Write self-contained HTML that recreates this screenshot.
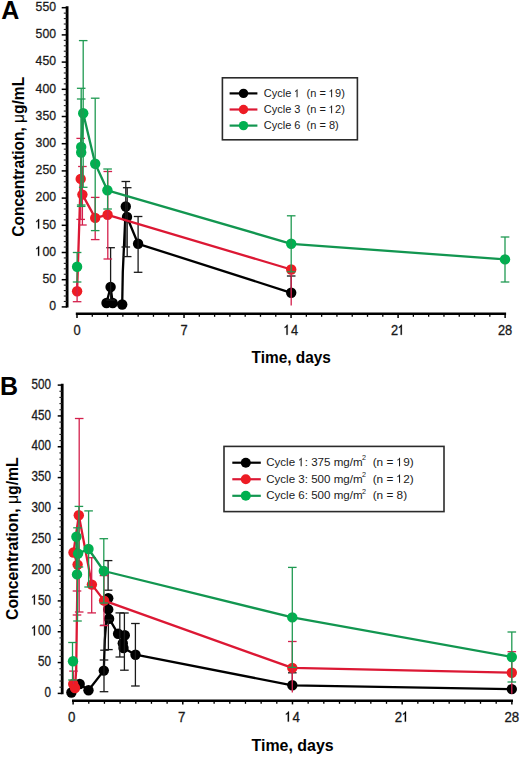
<!DOCTYPE html>
<html><head><meta charset="utf-8"><style>
html,body{margin:0;padding:0;background:#fff;width:520px;height:757px;overflow:hidden}
svg{display:block}
text{font-family:"Liberation Sans",sans-serif;fill:#1a1a1a}
.pl{font-weight:bold;fill:#000}
.tt{font-weight:bold;fill:#000}
.sup{font-size:7px}
.tl{stroke:#1a1a1a;stroke-width:0.3px}
.lg{fill:#1a1a1a}
.one{fill-opacity:0;stroke-opacity:0}
</style></head><body>
<svg width="520" height="757" viewBox="0 0 520 757">
<rect width="520" height="757" fill="#fff"/>
<text x="1.2" y="19" class="pl" style="font-size:25px">A</text>
<line x1="67.1" y1="6.3" x2="67.1" y2="307.5" stroke="#000" stroke-width="2.8"/>
<line x1="61.7" y1="306.9" x2="67.1" y2="306.9" stroke="#000" stroke-width="1.5"/>
<text transform="translate(56,310.2) scale(0.913,1)" text-anchor="end" class="tl" style="font-size:13.4px">0</text>
<line x1="63.8" y1="301.46" x2="67.1" y2="301.46" stroke="#222" stroke-width="1.1"/>
<line x1="63.8" y1="296.02" x2="67.1" y2="296.02" stroke="#222" stroke-width="1.1"/>
<line x1="63.8" y1="290.58" x2="67.1" y2="290.58" stroke="#222" stroke-width="1.1"/>
<line x1="63.8" y1="285.14" x2="67.1" y2="285.14" stroke="#222" stroke-width="1.1"/>
<line x1="61.7" y1="279.7" x2="67.1" y2="279.7" stroke="#000" stroke-width="1.5"/>
<text transform="translate(56,283) scale(0.913,1)" text-anchor="end" class="tl" style="font-size:13.4px">50</text>
<line x1="63.8" y1="274.26" x2="67.1" y2="274.26" stroke="#222" stroke-width="1.1"/>
<line x1="63.8" y1="268.82" x2="67.1" y2="268.82" stroke="#222" stroke-width="1.1"/>
<line x1="63.8" y1="263.38" x2="67.1" y2="263.38" stroke="#222" stroke-width="1.1"/>
<line x1="63.8" y1="257.94" x2="67.1" y2="257.94" stroke="#222" stroke-width="1.1"/>
<line x1="61.7" y1="252.5" x2="67.1" y2="252.5" stroke="#000" stroke-width="1.5"/>
<text transform="translate(56,255.8) scale(0.913,1)" text-anchor="end" class="tl" style="font-size:13.4px"><tspan class="one">1</tspan>00</text>
<line x1="63.8" y1="247.06" x2="67.1" y2="247.06" stroke="#222" stroke-width="1.1"/>
<line x1="63.8" y1="241.62" x2="67.1" y2="241.62" stroke="#222" stroke-width="1.1"/>
<line x1="63.8" y1="236.18" x2="67.1" y2="236.18" stroke="#222" stroke-width="1.1"/>
<line x1="63.8" y1="230.74" x2="67.1" y2="230.74" stroke="#222" stroke-width="1.1"/>
<line x1="61.7" y1="225.3" x2="67.1" y2="225.3" stroke="#000" stroke-width="1.5"/>
<text transform="translate(56,228.6) scale(0.913,1)" text-anchor="end" class="tl" style="font-size:13.4px"><tspan class="one">1</tspan>50</text>
<line x1="63.8" y1="219.86" x2="67.1" y2="219.86" stroke="#222" stroke-width="1.1"/>
<line x1="63.8" y1="214.42" x2="67.1" y2="214.42" stroke="#222" stroke-width="1.1"/>
<line x1="63.8" y1="208.98" x2="67.1" y2="208.98" stroke="#222" stroke-width="1.1"/>
<line x1="63.8" y1="203.54" x2="67.1" y2="203.54" stroke="#222" stroke-width="1.1"/>
<line x1="61.7" y1="198.1" x2="67.1" y2="198.1" stroke="#000" stroke-width="1.5"/>
<text transform="translate(56,201.4) scale(0.913,1)" text-anchor="end" class="tl" style="font-size:13.4px">200</text>
<line x1="63.8" y1="192.66" x2="67.1" y2="192.66" stroke="#222" stroke-width="1.1"/>
<line x1="63.8" y1="187.22" x2="67.1" y2="187.22" stroke="#222" stroke-width="1.1"/>
<line x1="63.8" y1="181.78" x2="67.1" y2="181.78" stroke="#222" stroke-width="1.1"/>
<line x1="63.8" y1="176.34" x2="67.1" y2="176.34" stroke="#222" stroke-width="1.1"/>
<line x1="61.7" y1="170.9" x2="67.1" y2="170.9" stroke="#000" stroke-width="1.5"/>
<text transform="translate(56,174.2) scale(0.913,1)" text-anchor="end" class="tl" style="font-size:13.4px">250</text>
<line x1="63.8" y1="165.46" x2="67.1" y2="165.46" stroke="#222" stroke-width="1.1"/>
<line x1="63.8" y1="160.02" x2="67.1" y2="160.02" stroke="#222" stroke-width="1.1"/>
<line x1="63.8" y1="154.58" x2="67.1" y2="154.58" stroke="#222" stroke-width="1.1"/>
<line x1="63.8" y1="149.14" x2="67.1" y2="149.14" stroke="#222" stroke-width="1.1"/>
<line x1="61.7" y1="143.7" x2="67.1" y2="143.7" stroke="#000" stroke-width="1.5"/>
<text transform="translate(56,147) scale(0.913,1)" text-anchor="end" class="tl" style="font-size:13.4px">300</text>
<line x1="63.8" y1="138.26" x2="67.1" y2="138.26" stroke="#222" stroke-width="1.1"/>
<line x1="63.8" y1="132.82" x2="67.1" y2="132.82" stroke="#222" stroke-width="1.1"/>
<line x1="63.8" y1="127.38" x2="67.1" y2="127.38" stroke="#222" stroke-width="1.1"/>
<line x1="63.8" y1="121.94" x2="67.1" y2="121.94" stroke="#222" stroke-width="1.1"/>
<line x1="61.7" y1="116.5" x2="67.1" y2="116.5" stroke="#000" stroke-width="1.5"/>
<text transform="translate(56,119.8) scale(0.913,1)" text-anchor="end" class="tl" style="font-size:13.4px">350</text>
<line x1="63.8" y1="111.06" x2="67.1" y2="111.06" stroke="#222" stroke-width="1.1"/>
<line x1="63.8" y1="105.62" x2="67.1" y2="105.62" stroke="#222" stroke-width="1.1"/>
<line x1="63.8" y1="100.18" x2="67.1" y2="100.18" stroke="#222" stroke-width="1.1"/>
<line x1="63.8" y1="94.74" x2="67.1" y2="94.74" stroke="#222" stroke-width="1.1"/>
<line x1="61.7" y1="89.3" x2="67.1" y2="89.3" stroke="#000" stroke-width="1.5"/>
<text transform="translate(56,92.6) scale(0.913,1)" text-anchor="end" class="tl" style="font-size:13.4px">400</text>
<line x1="63.8" y1="83.86" x2="67.1" y2="83.86" stroke="#222" stroke-width="1.1"/>
<line x1="63.8" y1="78.42" x2="67.1" y2="78.42" stroke="#222" stroke-width="1.1"/>
<line x1="63.8" y1="72.98" x2="67.1" y2="72.98" stroke="#222" stroke-width="1.1"/>
<line x1="63.8" y1="67.54" x2="67.1" y2="67.54" stroke="#222" stroke-width="1.1"/>
<line x1="61.7" y1="62.1" x2="67.1" y2="62.1" stroke="#000" stroke-width="1.5"/>
<text transform="translate(56,65.4) scale(0.913,1)" text-anchor="end" class="tl" style="font-size:13.4px">450</text>
<line x1="63.8" y1="56.66" x2="67.1" y2="56.66" stroke="#222" stroke-width="1.1"/>
<line x1="63.8" y1="51.22" x2="67.1" y2="51.22" stroke="#222" stroke-width="1.1"/>
<line x1="63.8" y1="45.78" x2="67.1" y2="45.78" stroke="#222" stroke-width="1.1"/>
<line x1="63.8" y1="40.34" x2="67.1" y2="40.34" stroke="#222" stroke-width="1.1"/>
<line x1="61.7" y1="34.9" x2="67.1" y2="34.9" stroke="#000" stroke-width="1.5"/>
<text transform="translate(56,38.2) scale(0.913,1)" text-anchor="end" class="tl" style="font-size:13.4px">500</text>
<line x1="63.8" y1="29.46" x2="67.1" y2="29.46" stroke="#222" stroke-width="1.1"/>
<line x1="63.8" y1="24.02" x2="67.1" y2="24.02" stroke="#222" stroke-width="1.1"/>
<line x1="63.8" y1="18.58" x2="67.1" y2="18.58" stroke="#222" stroke-width="1.1"/>
<line x1="63.8" y1="13.14" x2="67.1" y2="13.14" stroke="#222" stroke-width="1.1"/>
<line x1="61.7" y1="7.7" x2="67.1" y2="7.7" stroke="#000" stroke-width="1.5"/>
<text transform="translate(56,11) scale(0.913,1)" text-anchor="end" class="tl" style="font-size:13.4px">550</text>
<line x1="75.8" y1="313.7" x2="506.1" y2="313.7" stroke="#000" stroke-width="2.6"/>
<line x1="77" y1="313.7" x2="77" y2="318.1" stroke="#000" stroke-width="1.5"/>
<text transform="translate(77,334.8) scale(0.92,1)" text-anchor="middle" class="tl" style="font-size:14.0px">0</text>
<line x1="92.29" y1="313.7" x2="92.29" y2="316.8" stroke="#000" stroke-width="1.3"/>
<line x1="107.58" y1="313.7" x2="107.58" y2="316.8" stroke="#000" stroke-width="1.3"/>
<line x1="122.87" y1="313.7" x2="122.87" y2="316.8" stroke="#000" stroke-width="1.3"/>
<line x1="138.16" y1="313.7" x2="138.16" y2="316.8" stroke="#000" stroke-width="1.3"/>
<line x1="153.45" y1="313.7" x2="153.45" y2="316.8" stroke="#000" stroke-width="1.3"/>
<line x1="168.74" y1="313.7" x2="168.74" y2="316.8" stroke="#000" stroke-width="1.3"/>
<line x1="184.03" y1="313.7" x2="184.03" y2="318.1" stroke="#000" stroke-width="1.5"/>
<text transform="translate(184.03,334.8) scale(0.92,1)" text-anchor="middle" class="tl" style="font-size:14.0px">7</text>
<line x1="199.32" y1="313.7" x2="199.32" y2="316.8" stroke="#000" stroke-width="1.3"/>
<line x1="214.61" y1="313.7" x2="214.61" y2="316.8" stroke="#000" stroke-width="1.3"/>
<line x1="229.9" y1="313.7" x2="229.9" y2="316.8" stroke="#000" stroke-width="1.3"/>
<line x1="245.19" y1="313.7" x2="245.19" y2="316.8" stroke="#000" stroke-width="1.3"/>
<line x1="260.48" y1="313.7" x2="260.48" y2="316.8" stroke="#000" stroke-width="1.3"/>
<line x1="275.77" y1="313.7" x2="275.77" y2="316.8" stroke="#000" stroke-width="1.3"/>
<line x1="291.06" y1="313.7" x2="291.06" y2="318.1" stroke="#000" stroke-width="1.5"/>
<text transform="translate(291.06,334.8) scale(0.92,1)" text-anchor="middle" class="tl" style="font-size:14.0px"><tspan class="one">1</tspan>4</text>
<line x1="306.35" y1="313.7" x2="306.35" y2="316.8" stroke="#000" stroke-width="1.3"/>
<line x1="321.64" y1="313.7" x2="321.64" y2="316.8" stroke="#000" stroke-width="1.3"/>
<line x1="336.93" y1="313.7" x2="336.93" y2="316.8" stroke="#000" stroke-width="1.3"/>
<line x1="352.22" y1="313.7" x2="352.22" y2="316.8" stroke="#000" stroke-width="1.3"/>
<line x1="367.51" y1="313.7" x2="367.51" y2="316.8" stroke="#000" stroke-width="1.3"/>
<line x1="382.8" y1="313.7" x2="382.8" y2="316.8" stroke="#000" stroke-width="1.3"/>
<line x1="398.09" y1="313.7" x2="398.09" y2="318.1" stroke="#000" stroke-width="1.5"/>
<text transform="translate(398.09,334.8) scale(0.92,1)" text-anchor="middle" class="tl" style="font-size:14.0px">2<tspan class="one">1</tspan></text>
<line x1="413.38" y1="313.7" x2="413.38" y2="316.8" stroke="#000" stroke-width="1.3"/>
<line x1="428.67" y1="313.7" x2="428.67" y2="316.8" stroke="#000" stroke-width="1.3"/>
<line x1="443.96" y1="313.7" x2="443.96" y2="316.8" stroke="#000" stroke-width="1.3"/>
<line x1="459.25" y1="313.7" x2="459.25" y2="316.8" stroke="#000" stroke-width="1.3"/>
<line x1="474.54" y1="313.7" x2="474.54" y2="316.8" stroke="#000" stroke-width="1.3"/>
<line x1="489.83" y1="313.7" x2="489.83" y2="316.8" stroke="#000" stroke-width="1.3"/>
<line x1="505.12" y1="313.7" x2="505.12" y2="318.1" stroke="#000" stroke-width="1.5"/>
<text transform="translate(505.12,334.8) scale(0.92,1)" text-anchor="middle" class="tl" style="font-size:14.0px">28</text>
<text transform="translate(291.2,362.9) scale(0.945,1)" text-anchor="middle" class="tt" style="font-size:16.3px">Time, days</text>
<text transform="translate(23.6,156.8) rotate(-90) scale(0.941,1)" text-anchor="middle" class="tt" style="font-size:16.5px">Concentration, <tspan style="font-weight:normal">&#956;</tspan>g/mL</text>
<polyline points="106.5,303 110.6,287 112.7,303 122.2,304.5 122.8,272 125.8,206.5 127,217 138.1,243.8 291.2,292.8" fill="none" stroke="#000000" stroke-width="2.3" stroke-linejoin="round"/>
<circle cx="106.5" cy="303" r="5.2" fill="#000000"/>
<circle cx="110.6" cy="287" r="5.2" fill="#000000"/>
<circle cx="112.7" cy="303" r="5.2" fill="#000000"/>
<circle cx="122.2" cy="304.5" r="5.2" fill="#000000"/>
<circle cx="125.8" cy="206.5" r="5.2" fill="#000000"/>
<circle cx="127" cy="217" r="5.2" fill="#000000"/>
<circle cx="138.1" cy="243.8" r="5.2" fill="#000000"/>
<circle cx="291.2" cy="292.8" r="5.2" fill="#000000"/>
<line x1="110.6" y1="247.7" x2="110.6" y2="300" stroke="#1a1a1a" stroke-width="1.3"/>
<line x1="106.3" y1="247.7" x2="114.9" y2="247.7" stroke="#1a1a1a" stroke-width="1.3"/>
<line x1="106.3" y1="300" x2="114.9" y2="300" stroke="#1a1a1a" stroke-width="1.3"/>
<line x1="125.8" y1="181.5" x2="125.8" y2="247" stroke="#1a1a1a" stroke-width="1.3"/>
<line x1="121.5" y1="181.5" x2="130.1" y2="181.5" stroke="#1a1a1a" stroke-width="1.3"/>
<line x1="121.5" y1="247" x2="130.1" y2="247" stroke="#1a1a1a" stroke-width="1.3"/>
<line x1="127.2" y1="187.7" x2="127.2" y2="256.6" stroke="#1a1a1a" stroke-width="1.3"/>
<line x1="122.9" y1="187.7" x2="131.5" y2="187.7" stroke="#1a1a1a" stroke-width="1.3"/>
<line x1="122.9" y1="256.6" x2="131.5" y2="256.6" stroke="#1a1a1a" stroke-width="1.3"/>
<line x1="138.1" y1="216.5" x2="138.1" y2="272.3" stroke="#1a1a1a" stroke-width="1.3"/>
<line x1="133.8" y1="216.5" x2="142.4" y2="216.5" stroke="#1a1a1a" stroke-width="1.3"/>
<line x1="133.8" y1="272.3" x2="142.4" y2="272.3" stroke="#1a1a1a" stroke-width="1.3"/>
<line x1="291.2" y1="276" x2="291.2" y2="292.8" stroke="#1a1a1a" stroke-width="1.3"/>
<line x1="286.9" y1="276" x2="295.5" y2="276" stroke="#1a1a1a" stroke-width="1.3"/>
<polyline points="77.1,291.3 80.7,178.9 82.4,194.6 95.2,217.9 107.6,214.8 291.2,269.5" fill="none" stroke="#dc1834" stroke-width="2.3" stroke-linejoin="round"/>
<circle cx="77.1" cy="291.3" r="5.2" fill="#ed1c24"/>
<circle cx="80.7" cy="178.9" r="5.2" fill="#ed1c24"/>
<circle cx="82.4" cy="194.6" r="5.2" fill="#ed1c24"/>
<circle cx="95.2" cy="217.9" r="5.2" fill="#ed1c24"/>
<circle cx="107.6" cy="214.8" r="5.2" fill="#ed1c24"/>
<circle cx="291.2" cy="269.5" r="5.2" fill="#ed1c24"/>
<line x1="77.1" y1="281" x2="77.1" y2="301.7" stroke="#d4204c" stroke-width="1.3"/>
<line x1="72.8" y1="301.7" x2="81.4" y2="301.7" stroke="#d4204c" stroke-width="1.3"/>
<line x1="80.7" y1="138.4" x2="80.7" y2="219.4" stroke="#d4204c" stroke-width="1.3"/>
<line x1="76.4" y1="138.4" x2="85" y2="138.4" stroke="#d4204c" stroke-width="1.3"/>
<line x1="76.4" y1="219.4" x2="85" y2="219.4" stroke="#d4204c" stroke-width="1.3"/>
<line x1="82.4" y1="166.5" x2="82.4" y2="225" stroke="#d4204c" stroke-width="1.3"/>
<line x1="78.1" y1="166.5" x2="86.7" y2="166.5" stroke="#d4204c" stroke-width="1.3"/>
<line x1="78.1" y1="225" x2="86.7" y2="225" stroke="#d4204c" stroke-width="1.3"/>
<line x1="95.2" y1="197.4" x2="95.2" y2="239.6" stroke="#d4204c" stroke-width="1.3"/>
<line x1="90.9" y1="197.4" x2="99.5" y2="197.4" stroke="#d4204c" stroke-width="1.3"/>
<line x1="90.9" y1="239.6" x2="99.5" y2="239.6" stroke="#d4204c" stroke-width="1.3"/>
<line x1="107.8" y1="171.5" x2="107.8" y2="259" stroke="#d4204c" stroke-width="1.3"/>
<line x1="103.5" y1="171.5" x2="112.1" y2="171.5" stroke="#d4204c" stroke-width="1.3"/>
<line x1="103.5" y1="259" x2="112.1" y2="259" stroke="#d4204c" stroke-width="1.3"/>
<line x1="291.2" y1="269.5" x2="291.2" y2="305.4" stroke="#d4204c" stroke-width="1.3"/>
<polyline points="81.2,152.5 81.2,146.9 83.2,113.2 95.2,163.7 107.4,190.3 291.2,243.8 505,259.4" fill="none" stroke="#129650" stroke-width="2.3" stroke-linejoin="round"/>
<circle cx="81.2" cy="152.5" r="5.2" fill="#00b050"/>
<circle cx="81.2" cy="146.9" r="5.2" fill="#00b050"/>
<circle cx="83.2" cy="113.2" r="5.2" fill="#00b050"/>
<circle cx="95.2" cy="163.7" r="5.2" fill="#00b050"/>
<circle cx="107.4" cy="190.3" r="5.2" fill="#00b050"/>
<circle cx="291.2" cy="243.8" r="5.2" fill="#00b050"/>
<circle cx="505" cy="259.4" r="5.2" fill="#00b050"/>
<line x1="77.1" y1="252.5" x2="77.1" y2="282" stroke="#1f9a52" stroke-width="1.3"/>
<line x1="72.8" y1="252.5" x2="81.4" y2="252.5" stroke="#1f9a52" stroke-width="1.3"/>
<line x1="72.8" y1="282" x2="81.4" y2="282" stroke="#1f9a52" stroke-width="1.3"/>
<line x1="81.2" y1="88.3" x2="81.2" y2="206.4" stroke="#1f9a52" stroke-width="1.3"/>
<line x1="76.9" y1="88.3" x2="85.5" y2="88.3" stroke="#1f9a52" stroke-width="1.3"/>
<line x1="76.9" y1="206.4" x2="85.5" y2="206.4" stroke="#1f9a52" stroke-width="1.3"/>
<line x1="81.2" y1="99" x2="81.2" y2="205" stroke="#1f9a52" stroke-width="1.3"/>
<line x1="76.9" y1="99" x2="85.5" y2="99" stroke="#1f9a52" stroke-width="1.3"/>
<line x1="76.9" y1="205" x2="85.5" y2="205" stroke="#1f9a52" stroke-width="1.3"/>
<line x1="83.2" y1="40.6" x2="83.2" y2="187.3" stroke="#1f9a52" stroke-width="1.3"/>
<line x1="78.9" y1="40.6" x2="87.5" y2="40.6" stroke="#1f9a52" stroke-width="1.3"/>
<line x1="78.9" y1="187.3" x2="87.5" y2="187.3" stroke="#1f9a52" stroke-width="1.3"/>
<line x1="95.2" y1="98.2" x2="95.2" y2="230.6" stroke="#1f9a52" stroke-width="1.3"/>
<line x1="90.9" y1="98.2" x2="99.5" y2="98.2" stroke="#1f9a52" stroke-width="1.3"/>
<line x1="90.9" y1="230.6" x2="99.5" y2="230.6" stroke="#1f9a52" stroke-width="1.3"/>
<line x1="107.6" y1="169" x2="107.6" y2="209" stroke="#1f9a52" stroke-width="1.3"/>
<line x1="103.3" y1="169" x2="111.9" y2="169" stroke="#1f9a52" stroke-width="1.3"/>
<line x1="103.3" y1="209" x2="111.9" y2="209" stroke="#1f9a52" stroke-width="1.3"/>
<line x1="291.2" y1="215.8" x2="291.2" y2="271.8" stroke="#1f9a52" stroke-width="1.3"/>
<line x1="286.9" y1="215.8" x2="295.5" y2="215.8" stroke="#1f9a52" stroke-width="1.3"/>
<line x1="286.9" y1="271.8" x2="295.5" y2="271.8" stroke="#1f9a52" stroke-width="1.3"/>
<line x1="505" y1="237" x2="505" y2="282" stroke="#1f9a52" stroke-width="1.3"/>
<line x1="500.7" y1="237" x2="509.3" y2="237" stroke="#1f9a52" stroke-width="1.3"/>
<line x1="500.7" y1="282" x2="509.3" y2="282" stroke="#1f9a52" stroke-width="1.3"/>
<circle cx="77.1" cy="266.7" r="5.2" fill="#00b050"/>
<rect x="222.4" y="77.8" width="135" height="62" fill="#fff" stroke="#2b2b2b" stroke-width="1.6"/>
<line x1="229.6" y1="93.4" x2="257.4" y2="93.4" stroke="#000000" stroke-width="2.2"/>
<circle cx="243.5" cy="93.4" r="4.7" fill="#000000"/>
<text x="263.8" y="97.2" class="lg" style="font-size:11px">Cycle <tspan class="one">1</tspan>&#160;&#160;(n = <tspan class="one">1</tspan>9)</text>
<line x1="229.6" y1="109.5" x2="257.4" y2="109.5" stroke="#dc1834" stroke-width="2.2"/>
<circle cx="243.5" cy="109.5" r="4.7" fill="#ed1c24"/>
<text x="263.8" y="113.3" class="lg" style="font-size:11px">Cycle 3&#160;&#160;(n = <tspan class="one">1</tspan>2)</text>
<line x1="229.6" y1="125.6" x2="257.4" y2="125.6" stroke="#129650" stroke-width="2.2"/>
<circle cx="243.5" cy="125.6" r="4.7" fill="#00b050"/>
<text x="263.8" y="129.4" class="lg" style="font-size:11px">Cycle 6&#160;&#160;(n = 8)</text>
<text x="0.1" y="394.6" class="pl" style="font-size:25px">B</text>
<line x1="62.2" y1="383.8" x2="62.2" y2="694.2" stroke="#000" stroke-width="2.8"/>
<line x1="57.7" y1="693.4" x2="62.2" y2="693.4" stroke="#000" stroke-width="1.5"/>
<text transform="translate(51,697.05) scale(0.846,1)" text-anchor="end" class="tl" style="font-size:13.8px">0</text>
<line x1="59.4" y1="687.23" x2="62.2" y2="687.23" stroke="#222" stroke-width="1.1"/>
<line x1="59.4" y1="681.07" x2="62.2" y2="681.07" stroke="#222" stroke-width="1.1"/>
<line x1="59.4" y1="674.9" x2="62.2" y2="674.9" stroke="#222" stroke-width="1.1"/>
<line x1="59.4" y1="668.74" x2="62.2" y2="668.74" stroke="#222" stroke-width="1.1"/>
<line x1="57.7" y1="662.57" x2="62.2" y2="662.57" stroke="#000" stroke-width="1.5"/>
<text transform="translate(51,666.22) scale(0.846,1)" text-anchor="end" class="tl" style="font-size:13.8px">50</text>
<line x1="59.4" y1="656.4" x2="62.2" y2="656.4" stroke="#222" stroke-width="1.1"/>
<line x1="59.4" y1="650.24" x2="62.2" y2="650.24" stroke="#222" stroke-width="1.1"/>
<line x1="59.4" y1="644.07" x2="62.2" y2="644.07" stroke="#222" stroke-width="1.1"/>
<line x1="59.4" y1="637.91" x2="62.2" y2="637.91" stroke="#222" stroke-width="1.1"/>
<line x1="57.7" y1="631.74" x2="62.2" y2="631.74" stroke="#000" stroke-width="1.5"/>
<text transform="translate(51,635.39) scale(0.846,1)" text-anchor="end" class="tl" style="font-size:13.8px"><tspan class="one">1</tspan>00</text>
<line x1="59.4" y1="625.57" x2="62.2" y2="625.57" stroke="#222" stroke-width="1.1"/>
<line x1="59.4" y1="619.41" x2="62.2" y2="619.41" stroke="#222" stroke-width="1.1"/>
<line x1="59.4" y1="613.24" x2="62.2" y2="613.24" stroke="#222" stroke-width="1.1"/>
<line x1="59.4" y1="607.08" x2="62.2" y2="607.08" stroke="#222" stroke-width="1.1"/>
<line x1="57.7" y1="600.91" x2="62.2" y2="600.91" stroke="#000" stroke-width="1.5"/>
<text transform="translate(51,604.56) scale(0.846,1)" text-anchor="end" class="tl" style="font-size:13.8px"><tspan class="one">1</tspan>50</text>
<line x1="59.4" y1="594.74" x2="62.2" y2="594.74" stroke="#222" stroke-width="1.1"/>
<line x1="59.4" y1="588.58" x2="62.2" y2="588.58" stroke="#222" stroke-width="1.1"/>
<line x1="59.4" y1="582.41" x2="62.2" y2="582.41" stroke="#222" stroke-width="1.1"/>
<line x1="59.4" y1="576.25" x2="62.2" y2="576.25" stroke="#222" stroke-width="1.1"/>
<line x1="57.7" y1="570.08" x2="62.2" y2="570.08" stroke="#000" stroke-width="1.5"/>
<text transform="translate(51,573.73) scale(0.846,1)" text-anchor="end" class="tl" style="font-size:13.8px">200</text>
<line x1="59.4" y1="563.91" x2="62.2" y2="563.91" stroke="#222" stroke-width="1.1"/>
<line x1="59.4" y1="557.75" x2="62.2" y2="557.75" stroke="#222" stroke-width="1.1"/>
<line x1="59.4" y1="551.58" x2="62.2" y2="551.58" stroke="#222" stroke-width="1.1"/>
<line x1="59.4" y1="545.42" x2="62.2" y2="545.42" stroke="#222" stroke-width="1.1"/>
<line x1="57.7" y1="539.25" x2="62.2" y2="539.25" stroke="#000" stroke-width="1.5"/>
<text transform="translate(51,542.9) scale(0.846,1)" text-anchor="end" class="tl" style="font-size:13.8px">250</text>
<line x1="59.4" y1="533.08" x2="62.2" y2="533.08" stroke="#222" stroke-width="1.1"/>
<line x1="59.4" y1="526.92" x2="62.2" y2="526.92" stroke="#222" stroke-width="1.1"/>
<line x1="59.4" y1="520.75" x2="62.2" y2="520.75" stroke="#222" stroke-width="1.1"/>
<line x1="59.4" y1="514.59" x2="62.2" y2="514.59" stroke="#222" stroke-width="1.1"/>
<line x1="57.7" y1="508.42" x2="62.2" y2="508.42" stroke="#000" stroke-width="1.5"/>
<text transform="translate(51,512.07) scale(0.846,1)" text-anchor="end" class="tl" style="font-size:13.8px">300</text>
<line x1="59.4" y1="502.25" x2="62.2" y2="502.25" stroke="#222" stroke-width="1.1"/>
<line x1="59.4" y1="496.09" x2="62.2" y2="496.09" stroke="#222" stroke-width="1.1"/>
<line x1="59.4" y1="489.92" x2="62.2" y2="489.92" stroke="#222" stroke-width="1.1"/>
<line x1="59.4" y1="483.76" x2="62.2" y2="483.76" stroke="#222" stroke-width="1.1"/>
<line x1="57.7" y1="477.59" x2="62.2" y2="477.59" stroke="#000" stroke-width="1.5"/>
<text transform="translate(51,481.24) scale(0.846,1)" text-anchor="end" class="tl" style="font-size:13.8px">350</text>
<line x1="59.4" y1="471.42" x2="62.2" y2="471.42" stroke="#222" stroke-width="1.1"/>
<line x1="59.4" y1="465.26" x2="62.2" y2="465.26" stroke="#222" stroke-width="1.1"/>
<line x1="59.4" y1="459.09" x2="62.2" y2="459.09" stroke="#222" stroke-width="1.1"/>
<line x1="59.4" y1="452.93" x2="62.2" y2="452.93" stroke="#222" stroke-width="1.1"/>
<line x1="57.7" y1="446.76" x2="62.2" y2="446.76" stroke="#000" stroke-width="1.5"/>
<text transform="translate(51,450.41) scale(0.846,1)" text-anchor="end" class="tl" style="font-size:13.8px">400</text>
<line x1="59.4" y1="440.59" x2="62.2" y2="440.59" stroke="#222" stroke-width="1.1"/>
<line x1="59.4" y1="434.43" x2="62.2" y2="434.43" stroke="#222" stroke-width="1.1"/>
<line x1="59.4" y1="428.26" x2="62.2" y2="428.26" stroke="#222" stroke-width="1.1"/>
<line x1="59.4" y1="422.1" x2="62.2" y2="422.1" stroke="#222" stroke-width="1.1"/>
<line x1="57.7" y1="415.93" x2="62.2" y2="415.93" stroke="#000" stroke-width="1.5"/>
<text transform="translate(51,419.58) scale(0.846,1)" text-anchor="end" class="tl" style="font-size:13.8px">450</text>
<line x1="59.4" y1="409.76" x2="62.2" y2="409.76" stroke="#222" stroke-width="1.1"/>
<line x1="59.4" y1="403.6" x2="62.2" y2="403.6" stroke="#222" stroke-width="1.1"/>
<line x1="59.4" y1="397.43" x2="62.2" y2="397.43" stroke="#222" stroke-width="1.1"/>
<line x1="59.4" y1="391.27" x2="62.2" y2="391.27" stroke="#222" stroke-width="1.1"/>
<line x1="57.7" y1="385.1" x2="62.2" y2="385.1" stroke="#000" stroke-width="1.5"/>
<text transform="translate(51,388.75) scale(0.846,1)" text-anchor="end" class="tl" style="font-size:13.8px">500</text>
<line x1="72" y1="700.7" x2="513" y2="700.7" stroke="#000" stroke-width="2.6"/>
<line x1="73.1" y1="700.7" x2="73.1" y2="704.4" stroke="#000" stroke-width="1.5"/>
<text transform="translate(71.7,721.6) scale(0.95,1)" text-anchor="middle" class="tl" style="font-size:14.0px">0</text>
<line x1="88.77" y1="700.7" x2="88.77" y2="703.8" stroke="#000" stroke-width="1.3"/>
<line x1="104.44" y1="700.7" x2="104.44" y2="703.8" stroke="#000" stroke-width="1.3"/>
<line x1="120.11" y1="700.7" x2="120.11" y2="703.8" stroke="#000" stroke-width="1.3"/>
<line x1="135.78" y1="700.7" x2="135.78" y2="703.8" stroke="#000" stroke-width="1.3"/>
<line x1="151.45" y1="700.7" x2="151.45" y2="703.8" stroke="#000" stroke-width="1.3"/>
<line x1="167.12" y1="700.7" x2="167.12" y2="703.8" stroke="#000" stroke-width="1.3"/>
<line x1="182.79" y1="700.7" x2="182.79" y2="704.4" stroke="#000" stroke-width="1.5"/>
<text transform="translate(181.59,721.6) scale(0.95,1)" text-anchor="middle" class="tl" style="font-size:14.0px">7</text>
<line x1="198.46" y1="700.7" x2="198.46" y2="703.8" stroke="#000" stroke-width="1.3"/>
<line x1="214.13" y1="700.7" x2="214.13" y2="703.8" stroke="#000" stroke-width="1.3"/>
<line x1="229.8" y1="700.7" x2="229.8" y2="703.8" stroke="#000" stroke-width="1.3"/>
<line x1="245.47" y1="700.7" x2="245.47" y2="703.8" stroke="#000" stroke-width="1.3"/>
<line x1="261.14" y1="700.7" x2="261.14" y2="703.8" stroke="#000" stroke-width="1.3"/>
<line x1="276.81" y1="700.7" x2="276.81" y2="703.8" stroke="#000" stroke-width="1.3"/>
<line x1="292.48" y1="700.7" x2="292.48" y2="704.4" stroke="#000" stroke-width="1.5"/>
<text transform="translate(292.48,721.6) scale(0.95,1)" text-anchor="middle" class="tl" style="font-size:14.0px"><tspan class="one">1</tspan>4</text>
<line x1="308.15" y1="700.7" x2="308.15" y2="703.8" stroke="#000" stroke-width="1.3"/>
<line x1="323.82" y1="700.7" x2="323.82" y2="703.8" stroke="#000" stroke-width="1.3"/>
<line x1="339.49" y1="700.7" x2="339.49" y2="703.8" stroke="#000" stroke-width="1.3"/>
<line x1="355.16" y1="700.7" x2="355.16" y2="703.8" stroke="#000" stroke-width="1.3"/>
<line x1="370.83" y1="700.7" x2="370.83" y2="703.8" stroke="#000" stroke-width="1.3"/>
<line x1="386.5" y1="700.7" x2="386.5" y2="703.8" stroke="#000" stroke-width="1.3"/>
<line x1="402.17" y1="700.7" x2="402.17" y2="704.4" stroke="#000" stroke-width="1.5"/>
<text transform="translate(402.17,721.6) scale(0.95,1)" text-anchor="middle" class="tl" style="font-size:14.0px">2<tspan class="one">1</tspan></text>
<line x1="417.84" y1="700.7" x2="417.84" y2="703.8" stroke="#000" stroke-width="1.3"/>
<line x1="433.51" y1="700.7" x2="433.51" y2="703.8" stroke="#000" stroke-width="1.3"/>
<line x1="449.18" y1="700.7" x2="449.18" y2="703.8" stroke="#000" stroke-width="1.3"/>
<line x1="464.85" y1="700.7" x2="464.85" y2="703.8" stroke="#000" stroke-width="1.3"/>
<line x1="480.52" y1="700.7" x2="480.52" y2="703.8" stroke="#000" stroke-width="1.3"/>
<line x1="496.19" y1="700.7" x2="496.19" y2="703.8" stroke="#000" stroke-width="1.3"/>
<line x1="511.86" y1="700.7" x2="511.86" y2="704.4" stroke="#000" stroke-width="1.5"/>
<text transform="translate(511.86,721.6) scale(0.95,1)" text-anchor="middle" class="tl" style="font-size:14.0px">28</text>
<text transform="translate(292.6,751.2) scale(0.95,1)" text-anchor="middle" class="tt" style="font-size:16.8px">Time, days</text>
<text transform="translate(18.2,538.6) rotate(-90) scale(0.909,1)" text-anchor="middle" class="tt" style="font-size:17.4px">Concentration, <tspan style="font-weight:normal">&#956;</tspan>g/mL</text>
<polyline points="71.4,692.5 79.7,684 88.5,690.2 103.8,670.6 104.8,640 108.2,598.3 108.2,609.4 109.1,618.7 118.1,633.8 124.8,635.2 122.8,643.3 123.5,648 135.5,654.7 292.3,685.3 511.8,689.1" fill="none" stroke="#000000" stroke-width="2.3" stroke-linejoin="round"/>
<circle cx="71.4" cy="692.5" r="5.2" fill="#000000"/>
<circle cx="79.7" cy="684" r="5.2" fill="#000000"/>
<circle cx="88.5" cy="690.2" r="5.2" fill="#000000"/>
<circle cx="103.8" cy="670.6" r="5.2" fill="#000000"/>
<circle cx="108.2" cy="598.3" r="5.2" fill="#000000"/>
<circle cx="108.2" cy="609.4" r="5.2" fill="#000000"/>
<circle cx="109.1" cy="618.7" r="5.2" fill="#000000"/>
<circle cx="118.1" cy="633.8" r="5.2" fill="#000000"/>
<circle cx="124.8" cy="635.2" r="5.2" fill="#000000"/>
<circle cx="122.8" cy="643.3" r="5.2" fill="#000000"/>
<circle cx="123.5" cy="648" r="5.2" fill="#000000"/>
<circle cx="135.5" cy="654.7" r="5.2" fill="#000000"/>
<circle cx="292.3" cy="685.3" r="5.2" fill="#000000"/>
<circle cx="511.8" cy="689.1" r="5.2" fill="#000000"/>
<line x1="108.1" y1="560.6" x2="108.1" y2="590.2" stroke="#1a1a1a" stroke-width="1.3"/>
<line x1="103.8" y1="560.6" x2="112.4" y2="560.6" stroke="#1a1a1a" stroke-width="1.3"/>
<line x1="103.8" y1="590.2" x2="112.4" y2="590.2" stroke="#1a1a1a" stroke-width="1.3"/>
<line x1="119.8" y1="612.9" x2="119.8" y2="657" stroke="#1a1a1a" stroke-width="1.3"/>
<line x1="115.5" y1="612.9" x2="124.1" y2="612.9" stroke="#1a1a1a" stroke-width="1.3"/>
<line x1="115.5" y1="657" x2="124.1" y2="657" stroke="#1a1a1a" stroke-width="1.3"/>
<line x1="124.4" y1="613" x2="124.4" y2="670.2" stroke="#1a1a1a" stroke-width="1.3"/>
<line x1="120.1" y1="613" x2="128.7" y2="613" stroke="#1a1a1a" stroke-width="1.3"/>
<line x1="120.1" y1="670.2" x2="128.7" y2="670.2" stroke="#1a1a1a" stroke-width="1.3"/>
<line x1="135.4" y1="623.5" x2="135.4" y2="686" stroke="#1a1a1a" stroke-width="1.3"/>
<line x1="131.1" y1="623.5" x2="139.7" y2="623.5" stroke="#1a1a1a" stroke-width="1.3"/>
<line x1="131.1" y1="686" x2="139.7" y2="686" stroke="#1a1a1a" stroke-width="1.3"/>
<line x1="104.5" y1="625.3" x2="104.5" y2="650.2" stroke="#1a1a1a" stroke-width="1.3"/>
<line x1="100.2" y1="625.3" x2="108.8" y2="625.3" stroke="#1a1a1a" stroke-width="1.3"/>
<line x1="100.2" y1="650.2" x2="108.8" y2="650.2" stroke="#1a1a1a" stroke-width="1.3"/>
<line x1="104" y1="660" x2="104" y2="691.7" stroke="#1a1a1a" stroke-width="1.3"/>
<line x1="99.7" y1="660" x2="108.3" y2="660" stroke="#1a1a1a" stroke-width="1.3"/>
<line x1="99.7" y1="691.7" x2="108.3" y2="691.7" stroke="#1a1a1a" stroke-width="1.3"/>
<line x1="108.4" y1="620" x2="108.4" y2="649.6" stroke="#1a1a1a" stroke-width="1.3"/>
<line x1="104.1" y1="620" x2="112.7" y2="620" stroke="#1a1a1a" stroke-width="1.3"/>
<line x1="104.1" y1="649.6" x2="112.7" y2="649.6" stroke="#1a1a1a" stroke-width="1.3"/>
<line x1="292.3" y1="672.8" x2="292.3" y2="685.3" stroke="#1a1a1a" stroke-width="1.3"/>
<line x1="288" y1="672.8" x2="296.6" y2="672.8" stroke="#1a1a1a" stroke-width="1.3"/>
<polyline points="73.2,684 75,688 76.2,670 77.6,564.6 73.5,552.5 78.8,515.3 91.9,584.6 104.1,600.6 292.3,667.9 511.8,672.7" fill="none" stroke="#dc1834" stroke-width="2.3" stroke-linejoin="round"/>
<circle cx="73.2" cy="684" r="5.2" fill="#ed1c24"/>
<circle cx="75" cy="688" r="5.2" fill="#ed1c24"/>
<circle cx="77.6" cy="564.6" r="5.2" fill="#ed1c24"/>
<circle cx="73.5" cy="552.5" r="5.2" fill="#ed1c24"/>
<circle cx="78.8" cy="515.3" r="5.2" fill="#ed1c24"/>
<circle cx="91.9" cy="584.6" r="5.2" fill="#ed1c24"/>
<circle cx="104.1" cy="600.6" r="5.2" fill="#ed1c24"/>
<circle cx="292.3" cy="667.9" r="5.2" fill="#ed1c24"/>
<circle cx="511.8" cy="672.7" r="5.2" fill="#ed1c24"/>
<line x1="79.2" y1="418.5" x2="79.2" y2="612" stroke="#d4204c" stroke-width="1.3"/>
<line x1="74.9" y1="418.5" x2="83.5" y2="418.5" stroke="#d4204c" stroke-width="1.3"/>
<line x1="74.9" y1="612" x2="83.5" y2="612" stroke="#d4204c" stroke-width="1.3"/>
<line x1="91.7" y1="557.7" x2="91.7" y2="612.9" stroke="#d4204c" stroke-width="1.3"/>
<line x1="87.4" y1="557.7" x2="96" y2="557.7" stroke="#d4204c" stroke-width="1.3"/>
<line x1="87.4" y1="612.9" x2="96" y2="612.9" stroke="#d4204c" stroke-width="1.3"/>
<line x1="104" y1="575.6" x2="104" y2="625.6" stroke="#d4204c" stroke-width="1.3"/>
<line x1="99.7" y1="575.6" x2="108.3" y2="575.6" stroke="#d4204c" stroke-width="1.3"/>
<line x1="99.7" y1="625.6" x2="108.3" y2="625.6" stroke="#d4204c" stroke-width="1.3"/>
<line x1="77" y1="591" x2="77" y2="615" stroke="#d4204c" stroke-width="1.3"/>
<line x1="72.7" y1="591" x2="81.3" y2="591" stroke="#d4204c" stroke-width="1.3"/>
<line x1="72.7" y1="615" x2="81.3" y2="615" stroke="#d4204c" stroke-width="1.3"/>
<line x1="73.5" y1="671.1" x2="73.5" y2="684" stroke="#d4204c" stroke-width="1.3"/>
<line x1="69.2" y1="671.1" x2="77.8" y2="671.1" stroke="#d4204c" stroke-width="1.3"/>
<line x1="292.3" y1="641.5" x2="292.3" y2="692.5" stroke="#d4204c" stroke-width="1.3"/>
<line x1="288" y1="641.5" x2="296.6" y2="641.5" stroke="#d4204c" stroke-width="1.3"/>
<line x1="511.8" y1="651.7" x2="511.8" y2="693.7" stroke="#d4204c" stroke-width="1.3"/>
<line x1="507.5" y1="651.7" x2="516.1" y2="651.7" stroke="#d4204c" stroke-width="1.3"/>
<polyline points="77,574.4 76.4,536.7 78.1,553.6 88.5,549 103.8,571 292.3,617.4 511.8,657" fill="none" stroke="#129650" stroke-width="2.3" stroke-linejoin="round"/>
<circle cx="77" cy="574.4" r="5.2" fill="#00b050"/>
<circle cx="76.4" cy="536.7" r="5.2" fill="#00b050"/>
<circle cx="78.1" cy="553.6" r="5.2" fill="#00b050"/>
<circle cx="88.5" cy="549" r="5.2" fill="#00b050"/>
<circle cx="103.8" cy="571" r="5.2" fill="#00b050"/>
<circle cx="292.3" cy="617.4" r="5.2" fill="#00b050"/>
<circle cx="511.8" cy="657" r="5.2" fill="#00b050"/>
<line x1="72.5" y1="642.5" x2="72.5" y2="680" stroke="#1f9a52" stroke-width="1.3"/>
<line x1="68.2" y1="642.5" x2="76.8" y2="642.5" stroke="#1f9a52" stroke-width="1.3"/>
<line x1="68.2" y1="680" x2="76.8" y2="680" stroke="#1f9a52" stroke-width="1.3"/>
<line x1="78.9" y1="506.4" x2="78.9" y2="567" stroke="#1f9a52" stroke-width="1.3"/>
<line x1="74.6" y1="506.4" x2="83.2" y2="506.4" stroke="#1f9a52" stroke-width="1.3"/>
<line x1="74.6" y1="567" x2="83.2" y2="567" stroke="#1f9a52" stroke-width="1.3"/>
<line x1="77.5" y1="527.8" x2="77.5" y2="621" stroke="#1f9a52" stroke-width="1.3"/>
<line x1="73.2" y1="527.8" x2="81.8" y2="527.8" stroke="#1f9a52" stroke-width="1.3"/>
<line x1="73.2" y1="621" x2="81.8" y2="621" stroke="#1f9a52" stroke-width="1.3"/>
<line x1="88.6" y1="510.9" x2="88.6" y2="587" stroke="#1f9a52" stroke-width="1.3"/>
<line x1="84.3" y1="510.9" x2="92.9" y2="510.9" stroke="#1f9a52" stroke-width="1.3"/>
<line x1="84.3" y1="587" x2="92.9" y2="587" stroke="#1f9a52" stroke-width="1.3"/>
<line x1="103.8" y1="538.7" x2="103.8" y2="603" stroke="#1f9a52" stroke-width="1.3"/>
<line x1="99.5" y1="538.7" x2="108.1" y2="538.7" stroke="#1f9a52" stroke-width="1.3"/>
<line x1="99.5" y1="603" x2="108.1" y2="603" stroke="#1f9a52" stroke-width="1.3"/>
<line x1="292.3" y1="567.4" x2="292.3" y2="667.4" stroke="#1f9a52" stroke-width="1.3"/>
<line x1="288" y1="567.4" x2="296.6" y2="567.4" stroke="#1f9a52" stroke-width="1.3"/>
<line x1="288" y1="667.4" x2="296.6" y2="667.4" stroke="#1f9a52" stroke-width="1.3"/>
<line x1="511.8" y1="632" x2="511.8" y2="682" stroke="#1f9a52" stroke-width="1.3"/>
<line x1="507.5" y1="632" x2="516.1" y2="632" stroke="#1f9a52" stroke-width="1.3"/>
<line x1="507.5" y1="682" x2="516.1" y2="682" stroke="#1f9a52" stroke-width="1.3"/>
<circle cx="73" cy="661.3" r="5.2" fill="#00b050"/>
<rect x="224" y="446.4" width="220" height="65.2" fill="#fff" stroke="#2b2b2b" stroke-width="1.6"/>
<line x1="232.3" y1="462.7" x2="260.8" y2="462.7" stroke="#000000" stroke-width="2.2"/>
<circle cx="245.8" cy="462.7" r="5" fill="#000000"/>
<text x="266.2" y="466.3" textLength="96.4" lengthAdjust="spacingAndGlyphs" class="lg" style="font-size:11.8px">Cycle <tspan class="one">1</tspan>: 375 mg/m</text>
<text x="362.1" y="460.4" class="lg" style="font-size:7.2px">2</text>
<text x="372.7" y="466.3" class="lg" style="font-size:11.8px">(n = <tspan class="one">1</tspan>9)</text>
<line x1="232.3" y1="479.25" x2="260.8" y2="479.25" stroke="#dc1834" stroke-width="2.2"/>
<circle cx="245.8" cy="479.25" r="5" fill="#ed1c24"/>
<text x="266.2" y="482.85" textLength="96.4" lengthAdjust="spacingAndGlyphs" class="lg" style="font-size:11.8px">Cycle 3: 500 mg/m</text>
<text x="362.1" y="476.95" class="lg" style="font-size:7.2px">2</text>
<text x="372.7" y="482.85" class="lg" style="font-size:11.8px">(n = <tspan class="one">1</tspan>2)</text>
<line x1="232.3" y1="495.8" x2="260.8" y2="495.8" stroke="#129650" stroke-width="2.2"/>
<circle cx="245.8" cy="495.8" r="5" fill="#00b050"/>
<text x="266.2" y="499.4" textLength="96.4" lengthAdjust="spacingAndGlyphs" class="lg" style="font-size:11.8px">Cycle 6: 500 mg/m</text>
<text x="362.1" y="493.5" class="lg" style="font-size:7.2px">2</text>
<text x="372.7" y="499.4" class="lg" style="font-size:11.8px">(n = 8)</text>
<g transform="translate(56,255.8) scale(0.913,1)"><polygon points="-19.69,0 -18.48,0 -18.48,-9.59 -19.26,-9.59 -19.5,-9.09 -19.92,-8.58 -20.5,-8.12 -21.03,-7.8 -21.54,-7.58 -21.54,-6.46 -21.03,-6.7 -20.5,-6.99 -20.03,-7.3 -19.69,-7.58" class="tl"/></g>
<g transform="translate(56,228.6) scale(0.913,1)"><polygon points="-19.69,0 -18.48,0 -18.48,-9.59 -19.26,-9.59 -19.5,-9.09 -19.92,-8.58 -20.5,-8.12 -21.03,-7.8 -21.54,-7.58 -21.54,-6.46 -21.03,-6.7 -20.5,-6.99 -20.03,-7.3 -19.69,-7.58" class="tl"/></g>
<g transform="translate(291.06,334.8) scale(0.92,1)"><polygon points="-4.99,0 -3.73,0 -3.73,-10.02 -4.54,-10.02 -4.79,-9.49 -5.23,-8.96 -5.83,-8.48 -6.39,-8.15 -6.92,-7.92 -6.92,-6.75 -6.39,-7 -5.83,-7.31 -5.34,-7.63 -4.99,-7.92" class="tl"/></g>
<g transform="translate(398.09,334.8) scale(0.92,1)"><polygon points="2.8,0 4.06,0 4.06,-10.02 3.25,-10.02 3,-9.49 2.56,-8.96 1.96,-8.48 1.4,-8.15 0.87,-7.92 0.87,-6.75 1.4,-7 1.96,-7.31 2.45,-7.63 2.8,-7.92" class="tl"/></g>
<polygon points="296.57,97.2 297.56,97.2 297.56,89.33 296.92,89.33 296.72,89.74 296.38,90.16 295.9,90.53 295.46,90.8 295.05,90.97 295.05,91.9 295.46,91.7 295.9,91.46 296.29,91.2 296.57,90.97" class="lg"/>
<polygon points="331.13,97.2 332.12,97.2 332.12,89.33 331.48,89.33 331.28,89.74 330.94,90.16 330.47,90.53 330.03,90.8 329.61,90.97 329.61,91.9 330.03,91.7 330.47,91.46 330.85,91.2 331.13,90.97" class="lg"/>
<polygon points="331.11,113.3 332.1,113.3 332.1,105.43 331.47,105.43 331.27,105.84 330.93,106.26 330.45,106.63 330.01,106.9 329.59,107.07 329.59,108 330.01,107.8 330.45,107.56 330.84,107.31 331.11,107.07" class="lg"/>
<g transform="translate(51,635.39) scale(0.846,1)"><polygon points="-20.25,0 -19.01,0 -19.01,-9.88 -19.81,-9.88 -20.06,-9.36 -20.48,-8.83 -21.08,-8.36 -21.63,-8.03 -22.15,-7.81 -22.15,-6.65 -21.63,-6.9 -21.08,-7.2 -20.59,-7.52 -20.25,-7.81" class="tl"/></g>
<g transform="translate(51,604.56) scale(0.846,1)"><polygon points="-20.25,0 -19.01,0 -19.01,-9.88 -19.81,-9.88 -20.06,-9.36 -20.48,-8.83 -21.08,-8.36 -21.63,-8.03 -22.15,-7.81 -22.15,-6.65 -21.63,-6.9 -21.08,-7.2 -20.59,-7.52 -20.25,-7.81" class="tl"/></g>
<g transform="translate(292.48,721.6) scale(0.95,1)"><polygon points="-4.99,0 -3.72,0 -3.72,-10.02 -4.54,-10.02 -4.79,-9.49 -5.22,-8.96 -5.83,-8.48 -6.39,-8.15 -6.92,-7.92 -6.92,-6.75 -6.39,-7 -5.83,-7.31 -5.34,-7.63 -4.99,-7.92" class="tl"/></g>
<g transform="translate(402.17,721.6) scale(0.95,1)"><polygon points="2.8,0 4.06,0 4.06,-10.02 3.25,-10.02 3,-9.49 2.56,-8.96 1.96,-8.48 1.4,-8.15 0.87,-7.92 0.87,-6.75 1.4,-7 1.96,-7.31 2.45,-7.63 2.8,-7.92" class="tl"/></g>
<polygon points="300.64,466.3 301.68,466.3 301.68,457.85 301.01,457.85 300.8,458.3 300.45,458.75 299.95,459.15 299.49,459.43 299.05,459.62 299.05,460.61 299.49,460.4 299.95,460.14 300.35,459.87 300.64,459.62" class="lg"/>
<polygon points="399,466.3 400.06,466.3 400.06,457.85 399.38,457.85 399.16,458.3 398.8,458.75 398.29,459.15 397.82,459.43 397.37,459.62 397.37,460.61 397.82,460.4 398.29,460.14 398.7,459.87 399,459.62" class="lg"/>
<polygon points="399,482.85 400.06,482.85 400.06,474.4 399.38,474.4 399.16,474.85 398.8,475.3 398.29,475.7 397.82,475.98 397.37,476.17 397.37,477.16 397.82,476.95 398.29,476.69 398.7,476.42 399,476.17" class="lg"/>
</svg>
</body></html>
